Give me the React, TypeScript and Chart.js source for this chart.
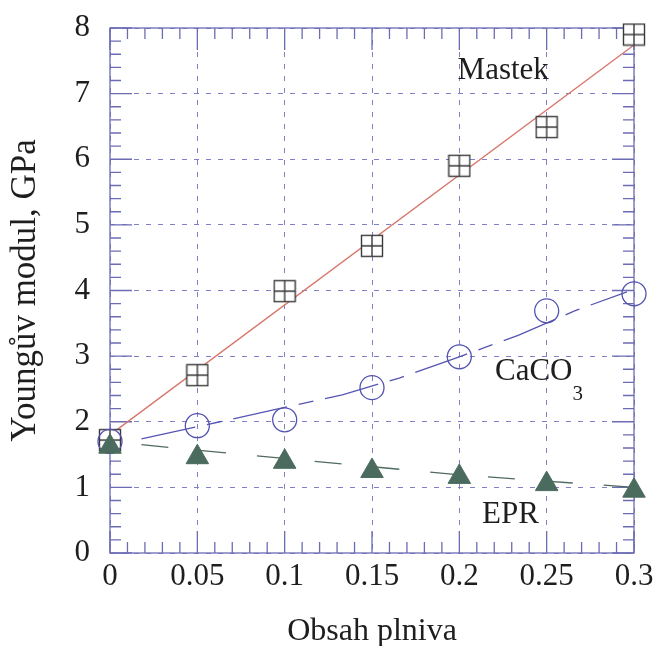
import React, { useEffect, useRef } from 'react';
import { Chart, registerables } from 'chart.js';

Chart.register(...registerables);

// ---- data ----
const fillerFraction = [0, 0.05, 0.1, 0.15, 0.2, 0.25, 0.3];
const mastekValues = [1.72, 2.71, 3.99, 4.68, 5.9, 6.49, 7.9];
const caco3Values = [1.7, 1.94, 2.03, 2.52, 2.99, 3.69, 3.95];
const eprValues = [1.62, 1.46, 1.39, 1.25, 1.16, 1.05, 0.95];

const mastekFitX = [0, 0.3];
const mastekFitY = [1.8, 7.74];
const caco3FitX = [0.018, 0.063, 0.1, 0.133, 0.166, 0.2, 0.234, 0.266, 0.296];
const caco3FitY = [1.74, 2.0, 2.22, 2.41, 2.67, 2.99, 3.32, 3.69, 3.98];
const eprFitX = [0.018, 0.1, 0.2, 0.3];
const eprFitY = [1.65, 1.44, 1.19, 1.0];

const xTickLabels = ['0', '0.05', '0.1', '0.15', '0.2', '0.25', '0.3'];
const yTickLabels = ['0', '1', '2', '3', '4', '5', '6', '7', '8'];
const xTitle = 'Obsah plniva';
const yTitle = 'Youngův modul, GPa';
const seriesNames = ['Mastek', 'CaCO', 'EPR'];
const seriesSub = ['', '3', ''];
const labelX = [0.199, 0.2204, 0.213];
const labelY = [7.22, 2.64, 0.457];

const AXIS = '#6c6cb4';
const GRID = '#8080c8';
const TEXT = '#1e1e1e';
const SERIF = '"Liberation Serif", "Times New Roman", serif';

function pts(xs: number[], ys: number[]) {
  return xs.map((x, i) => ({ x, y: ys[i] }));
}

function makeSquare(): HTMLCanvasElement {
  const c = document.createElement('canvas');
  c.width = 24;
  c.height = 24;
  const g = c.getContext('2d')!;
  g.fillStyle = '#ffffff';
  g.fillRect(1, 1, 22, 22);
  g.strokeStyle = '#3a3a3a';
  g.lineWidth = 1.4;
  g.strokeRect(1.5, 1.5, 21, 21);
  g.beginPath();
  g.moveTo(12, 1.5);
  g.lineTo(12, 22.5);
  g.moveTo(1.5, 12);
  g.lineTo(22.5, 12);
  g.stroke();
  return c;
}

const framePlugin = {
  id: 'frame',
  beforeDatasetsDraw(chart: any) {
    const { ctx, chartArea: a, scales } = chart;
    const xs = scales.x;
    const ys = scales.y;
    ctx.save();
    ctx.strokeStyle = AXIS;
    ctx.lineWidth = 1.3;
    ctx.setLineDash([]);
    ctx.strokeRect(a.left, a.top, a.right - a.left, a.bottom - a.top);
    ctx.beginPath();
    for (let i = 0; i <= 30; i++) {
      const px = xs.getPixelForValue(i * 0.01);
      const len = i % 5 === 0 ? 22 : 11;
      ctx.moveTo(px, a.bottom);
      ctx.lineTo(px, a.bottom - len);
      ctx.moveTo(px, a.top);
      ctx.lineTo(px, a.top + len);
    }
    for (let i = 0; i <= 40; i++) {
      const py = ys.getPixelForValue(i * 0.2);
      const len = i % 5 === 0 ? 22 : 11;
      ctx.moveTo(a.left, py);
      ctx.lineTo(a.left + len, py);
      ctx.moveTo(a.right, py);
      ctx.lineTo(a.right - len, py);
    }
    ctx.stroke();
    ctx.restore();
  },
  afterDatasetsDraw(chart: any) {
    const { ctx, scales } = chart;
    ctx.save();
    ctx.fillStyle = TEXT;
    ctx.textBaseline = 'alphabetic';
    ctx.textAlign = 'left';
    seriesNames.forEach((name, i) => {
      const px = scales.x.getPixelForValue(labelX[i]);
      const py = scales.y.getPixelForValue(labelY[i]);
      ctx.font = `31px ${SERIF}`;
      ctx.fillText(name, px, py);
      if (seriesSub[i]) {
        const w = ctx.measureText(name).width;
        ctx.font = `21px ${SERIF}`;
        ctx.fillText(seriesSub[i], px + w, py + 20);
      }
    });
    ctx.restore();
  },
};

export default function App() {
  const ref = useRef<HTMLCanvasElement | null>(null);

  useEffect(() => {
    if (!ref.current) return;
    const square = makeSquare();
    const chart = new Chart(ref.current, {
      type: 'scatter',
      data: {
        datasets: [
          {
            label: 'EPR',
            data: pts(fillerFraction, eprValues),
            pointStyle: 'triangle',
            pointRadius: 13,
            backgroundColor: '#4b6b5e',
            borderColor: '#4b6b5e',
            borderWidth: 1,
            showLine: false,
            clip: false,
          },
          {
            label: 'CaCO3',
            data: pts(fillerFraction, caco3Values),
            pointStyle: 'circle',
            pointRadius: 12,
            backgroundColor: 'rgba(0,0,0,0)',
            borderColor: '#5252b0',
            borderWidth: 1.3,
            showLine: false,
            clip: false,
          },
          {
            label: 'Mastek',
            data: pts(fillerFraction, mastekValues),
            pointStyle: square as any,
            pointRadius: 12,
            showLine: false,
            clip: false,
          },
          {
            label: 'EPR fit',
            data: pts(eprFitX, eprFitY),
            showLine: true,
            pointRadius: 0,
            borderColor: '#4f6a60',
            borderWidth: 1.3,
            borderDash: [27, 31],
            clip: false,
          },
          {
            label: 'CaCO3 fit',
            data: pts(caco3FitX, caco3FitY),
            showLine: true,
            pointRadius: 0,
            borderColor: '#5555b2',
            borderWidth: 1.3,
            borderDash: [55, 12, 15, 12],
            clip: false,
          },
          {
            label: 'Mastek fit',
            data: pts(mastekFitX, mastekFitY),
            showLine: true,
            pointRadius: 0,
            borderColor: '#d8776b',
            borderWidth: 1.4,
            clip: false,
          },
        ],
      },
      options: {
        animation: false,
        responsive: false,
        devicePixelRatio: 1,
        layout: { padding: { top: 28, right: 21, left: 0, bottom: 0 } },
        plugins: {
          legend: { display: false },
          tooltip: { enabled: false },
        },
        scales: {
          x: {
            type: 'linear',
            min: 0,
            max: 0.3,
            afterFit: (s: any) => {
              s.height = 93;
              s.paddingLeft = 0;
              s.paddingRight = 0;
            },
            ticks: {
              stepSize: 0.05,
              autoSkip: false,
              maxRotation: 0,
              padding: 5,
              color: TEXT,
              font: { family: SERIF, size: 31 },
              callback: (_v: any, i: number) => xTickLabels[i],
            },
            grid: { color: GRID, lineWidth: 1, drawTicks: false },
            border: { display: false, dash: [5, 7] },
            title: {
              display: true,
              text: xTitle,
              color: TEXT,
              font: { family: SERIF, size: 32 },
              padding: { top: 0, bottom: -5 },
            },
          },
          y: {
            type: 'linear',
            min: 0,
            max: 8,
            afterFit: (s: any) => {
              s.width = 110;
              s.paddingTop = 0;
              s.paddingBottom = 0;
            },
            ticks: {
              stepSize: 1,
              autoSkip: false,
              padding: 20,
              color: TEXT,
              font: { family: SERIF, size: 31 },
              callback: (_v: any, i: number) => yTickLabels[i],
            },
            grid: { color: GRID, lineWidth: 1, drawTicks: false },
            border: { display: false, dash: [5, 7] },
            title: {
              display: true,
              text: yTitle,
              color: TEXT,
              font: { family: SERIF, size: 35 },
              padding: { top: 5, bottom: 0 },
            },
          },
        },
      },
      plugins: [framePlugin],
    } as any);
    return () => chart.destroy();
  }, []);

  return (
    <div
      style={{
        position: 'fixed',
        left: 0,
        top: 0,
        width: 655,
        height: 646,
        background: '#ffffff',
      }}
    >
      <canvas ref={ref} width={655} height={646} />
    </div>
  );
}
